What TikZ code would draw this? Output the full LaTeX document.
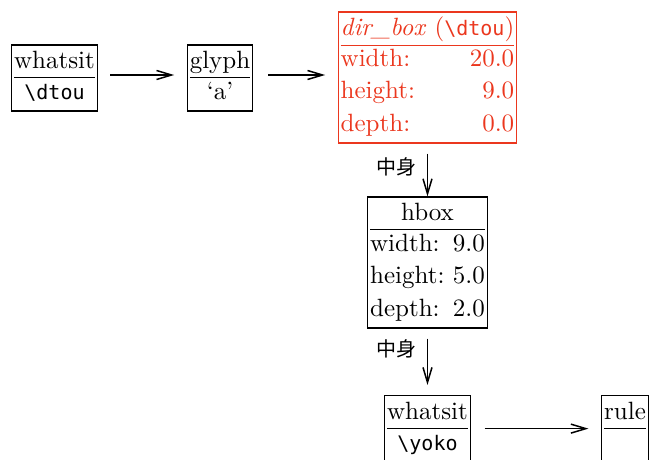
\documentclass[tikz,border=0pt]{standalone}
\usepackage{fontspec}
\setmonofont{DejaVu Sans Mono}[Scale=0.8]
\newfontfamily\cjk{Noto Sans CJK JP}
\usetikzlibrary{arrows.meta}
\definecolor{dirred}{RGB}{235,55,30}
\newcommand{\bsl}{\textbackslash}

\begin{document}
\begin{tikzpicture}[x=0.4pt,y=-0.4pt,
  nodebox/.style={draw,line width=0.5pt,inner sep=1pt},
  link/.style={-{Straight Barb[length=6pt,width=3.6pt]},line width=0.6pt},
  tag/.style={left,font=\cjk\footnotesize,inner sep=4pt}]
\useasboundingbox (0,0) rectangle (649,460);

% top row
\node[nodebox] (w1) at (54.5,78) {\begin{tabular}{@{}c@{}}whatsit\\\hline\texttt{\bsl dtou}\end{tabular}};
\node[nodebox] (glyph) at (220,78) {\begin{tabular}{@{}c@{}}glyph\\\hline`a'\end{tabular}};
\node[nodebox,draw=dirred,text=dirred] (dirbox) at (427.5,77.5) {\begin{tabular}{@{}l@{\hspace{6pt}}r@{}}
  \multicolumn{2}{@{}c@{}}{\textit{dir\_box} (\texttt{\bsl dtou})}\\\hline
  width: & 20.0\\[1pt]
  height: & 9.0\\[1pt]
  depth: & 0.0
\end{tabular}};

% middle
\node[nodebox] (hbox) at (427.5,262.5) {\begin{tabular}{@{}l@{\ }r@{}}
  \multicolumn{2}{@{}c@{}}{hbox}\\\hline
  width: & 9.0\\[1pt]
  height: & 5.0\\[1pt]
  depth: & 2.0
\end{tabular}};

% bottom row
\node[nodebox,anchor=north] (w2) at (427.5,395) {\begin{tabular}{@{}c@{}}whatsit\\\hline\texttt{\bsl yoko}\end{tabular}};
\node[nodebox,anchor=north west] (rule) at (601,395) {\begin{tabular}{@{}l@{}}rule\\\hline\strut\hspace{30pt}\end{tabular}};

\draw[link,shorten <=5pt,shorten >=5pt] ([yshift=1.2pt]w1.east) -- ([yshift=1.2pt]glyph.west);
\draw[link,shorten <=6pt,shorten >=5pt] ([yshift=1.2pt]glyph.east) -- ([yshift=1.2pt]dirbox.west |- glyph.east);
\draw[link,shorten <=4pt] (dirbox.south) -- node[tag,pos=0.45] {中身} (hbox.north);
\draw[link,shorten <=4pt,shorten >=4pt] (hbox.south) -- node[tag,pos=0.3] {中身} (w2.north);
\draw[link,shorten <=5.5pt,shorten >=5pt] (w2.east) -- (rule.west |- w2.east);
\end{tikzpicture}
\end{document}
